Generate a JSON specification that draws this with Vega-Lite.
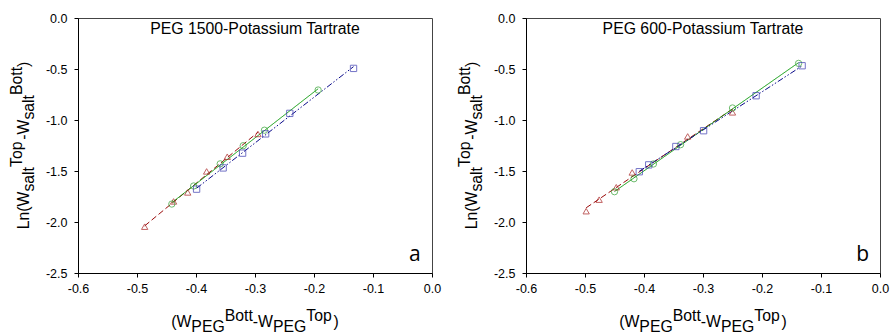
{
  "$schema": "https://vega.github.io/schema/vega-lite/v6.json",
  "background": "white",
  "padding": {"left": 8, "top": 11, "right": 0, "bottom": 0},
  "spacing": 14,
  "config": {
    "view": {"stroke": "#444", "strokeWidth": 1},
    "axis": {"grid": false, "domainColor": "#000", "domainWidth": 1, "tickColor": "#000", "tickSize": 4, "labelFont": "Liberation Sans", "labelFontSize": 12.5, "labelColor": "#000", "labelOverlap": false, "labelFlush": false, "format": ".1f", "labelExpr": "replace(datum.label, '\u2212', '-')"},
    "axisX": {"labelPadding": 5},
    "axisY": {"labelPadding": 7},
    "text": {"font": "Liberation Sans", "fontSize": 15.8, "color": "#000", "align": "left", "baseline": "alphabetic"}
  },
  "datasets": {
    "a": [
      {"series": "s1", "x": -0.487, "y": -2.046},
      {"series": "s1", "x": -0.438, "y": -1.798},
      {"series": "s1", "x": -0.414, "y": -1.710},
      {"series": "s1", "x": -0.382, "y": -1.504},
      {"series": "s1", "x": -0.347, "y": -1.360},
      {"series": "s1", "x": -0.295, "y": -1.137},
      {"series": "s2", "x": -0.441, "y": -1.824},
      {"series": "s2", "x": -0.404, "y": -1.647},
      {"series": "s2", "x": -0.359, "y": -1.430},
      {"series": "s2", "x": -0.320, "y": -1.252},
      {"series": "s2", "x": -0.284, "y": -1.100},
      {"series": "s2", "x": -0.193, "y": -0.706},
      {"series": "s3", "x": -0.399, "y": -1.678},
      {"series": "s3", "x": -0.354, "y": -1.470},
      {"series": "s3", "x": -0.321, "y": -1.325},
      {"series": "s3", "x": -0.282, "y": -1.136},
      {"series": "s3", "x": -0.241, "y": -0.935},
      {"series": "s3", "x": -0.133, "y": -0.494}
    ],
    "b": [
      {"series": "s1", "x": -0.498, "y": -1.894},
      {"series": "s1", "x": -0.476, "y": -1.781},
      {"series": "s1", "x": -0.447, "y": -1.659},
      {"series": "s1", "x": -0.420, "y": -1.514},
      {"series": "s1", "x": -0.326, "y": -1.161},
      {"series": "s1", "x": -0.250, "y": -0.925},
      {"series": "s2", "x": -0.450, "y": -1.703},
      {"series": "s2", "x": -0.417, "y": -1.576},
      {"series": "s2", "x": -0.384, "y": -1.431},
      {"series": "s2", "x": -0.338, "y": -1.242},
      {"series": "s2", "x": -0.250, "y": -0.882},
      {"series": "s2", "x": -0.138, "y": -0.445},
      {"series": "s3", "x": -0.408, "y": -1.507},
      {"series": "s3", "x": -0.392, "y": -1.440},
      {"series": "s3", "x": -0.346, "y": -1.260},
      {"series": "s3", "x": -0.299, "y": -1.105},
      {"series": "s3", "x": -0.210, "y": -0.762},
      {"series": "s3", "x": -0.132, "y": -0.468}
    ]
  },
  "hconcat": [
    {
      "width": 354, "height": 255,
      "data": {"name": "a"},
      "layer": [
        {
          "transform": [{"regression": "y", "on": "x", "groupby": ["series"]}],
          "mark": {"type": "line", "strokeWidth": 1},
          "encoding": {
            "x": {"field": "x", "type": "quantitative", "scale": {"domain": [-0.6, 0], "nice": false, "zero": false}, "axis": {"title": null, "values": [-0.6, -0.5, -0.4, -0.3, -0.2, -0.1, 0]}},
            "y": {"field": "y", "type": "quantitative", "scale": {"domain": [-2.5, 0], "nice": false, "zero": false}, "axis": {"title": null, "values": [-2.5, -2, -1.5, -1, -0.5, 0]}},
            "color": {"field": "series", "type": "nominal", "scale": {"domain": ["s1", "s2", "s3"], "range": ["#9a0a0a", "#0a9a0a", "#0a0a8a"]}, "legend": null},
            "strokeDash": {"field": "series", "type": "nominal", "scale": {"domain": ["s1", "s2", "s3"], "range": [[6, 3], [1, 0], [6, 2, 1.5, 2, 1.5, 2]]}, "legend": null}
          }
        },
        {
          "mark": {"type": "point", "filled": false, "strokeWidth": 1, "size": 40},
          "encoding": {
            "x": {"field": "x", "type": "quantitative"},
            "y": {"field": "y", "type": "quantitative"},
            "stroke": {"field": "series", "type": "nominal", "scale": {"domain": ["s1", "s2", "s3"], "range": ["#a82020", "#30a030", "#3a3ab0"]}, "legend": null},
            "shape": {"field": "series", "type": "nominal", "scale": {"domain": ["s1", "s2", "s3"], "range": ["triangle-up", "circle", "square"]}, "legend": null}
          }
        },
        {"data": {"values": [{}]}, "mark": {"type": "text", "text": "PEG 1500-Potassium Tartrate", "align": "center"}, "encoding": {"x": {"datum": -0.3}, "y": {"datum": -0.157}}},
        {"data": {"values": [{}]}, "mark": {"type": "text", "text": "a", "align": "center", "font": "Open Sans", "fontSize": 21}, "encoding": {"x": {"datum": -0.0293}, "y": {"datum": -2.386}}},
        {"data": {"values": [{}]}, "mark": {"type": "text", "text": "(W"}, "encoding": {"x": {"datum": -0.4421}, "y": {"datum": -3.031}}},
        {"data": {"values": [{}]}, "mark": {"type": "text", "text": "PEG"}, "encoding": {"x": {"datum": -0.4079}, "y": {"datum": -3.075}}},
        {"data": {"values": [{}]}, "mark": {"type": "text", "text": "Bott"}, "encoding": {"x": {"datum": -0.3514}, "y": {"datum": -2.968}}},
        {"data": {"values": [{}]}, "mark": {"type": "text", "text": "-W"}, "encoding": {"x": {"datum": -0.3037}, "y": {"datum": -3.031}}},
        {"data": {"values": [{}]}, "mark": {"type": "text", "text": "PEG"}, "encoding": {"x": {"datum": -0.2695}, "y": {"datum": -3.075}}},
        {"data": {"values": [{}]}, "mark": {"type": "text", "text": "Top"}, "encoding": {"x": {"datum": -0.2130}, "y": {"datum": -2.968}}},
        {"data": {"values": [{}]}, "mark": {"type": "text", "text": ")"}, "encoding": {"x": {"datum": -0.1668}, "y": {"datum": -3.031}}},
        {"data": {"values": [{}]}, "mark": {"type": "text", "text": "Ln(W", "angle": 270}, "encoding": {"x": {"datum": -0.683}, "y": {"datum": -2.072}}},
        {"data": {"values": [{}]}, "mark": {"type": "text", "text": "salt", "angle": 270}, "encoding": {"x": {"datum": -0.6754}, "y": {"datum": -1.7019}}},
        {"data": {"values": [{}]}, "mark": {"type": "text", "text": "Top", "angle": 270}, "encoding": {"x": {"datum": -0.6949}, "y": {"datum": -1.4609}}},
        {"data": {"values": [{}]}, "mark": {"type": "text", "text": "-W", "angle": 270}, "encoding": {"x": {"datum": -0.683}, "y": {"datum": -1.194}}},
        {"data": {"values": [{}]}, "mark": {"type": "text", "text": "salt", "angle": 270}, "encoding": {"x": {"datum": -0.6754}, "y": {"datum": -0.9962}}},
        {"data": {"values": [{}]}, "mark": {"type": "text", "text": "Bott", "angle": 270}, "encoding": {"x": {"datum": -0.6949}, "y": {"datum": -0.7552}}},
        {"data": {"values": [{}]}, "mark": {"type": "text", "text": ")", "angle": 270}, "encoding": {"x": {"datum": -0.683}, "y": {"datum": -0.4796}}}
      ]
    },
    {
      "width": 354, "height": 255,
      "data": {"name": "b"},
      "layer": [
        {
          "transform": [{"regression": "y", "on": "x", "groupby": ["series"]}],
          "mark": {"type": "line", "strokeWidth": 1},
          "encoding": {
            "x": {"field": "x", "type": "quantitative", "scale": {"domain": [-0.6, 0], "nice": false, "zero": false}, "axis": {"title": null, "values": [-0.6, -0.5, -0.4, -0.3, -0.2, -0.1, 0]}},
            "y": {"field": "y", "type": "quantitative", "scale": {"domain": [-2.5, 0], "nice": false, "zero": false}, "axis": {"title": null, "values": [-2.5, -2, -1.5, -1, -0.5, 0]}},
            "color": {"field": "series", "type": "nominal", "scale": {"domain": ["s1", "s2", "s3"], "range": ["#9a0a0a", "#0a9a0a", "#0a0a8a"]}, "legend": null},
            "strokeDash": {"field": "series", "type": "nominal", "scale": {"domain": ["s1", "s2", "s3"], "range": [[6, 3], [1, 0], [6, 2, 1.5, 2, 1.5, 2]]}, "legend": null}
          }
        },
        {
          "mark": {"type": "point", "filled": false, "strokeWidth": 1, "size": 40},
          "encoding": {
            "x": {"field": "x", "type": "quantitative"},
            "y": {"field": "y", "type": "quantitative"},
            "stroke": {"field": "series", "type": "nominal", "scale": {"domain": ["s1", "s2", "s3"], "range": ["#a82020", "#30a030", "#3a3ab0"]}, "legend": null},
            "shape": {"field": "series", "type": "nominal", "scale": {"domain": ["s1", "s2", "s3"], "range": ["triangle-up", "circle", "square"]}, "legend": null}
          }
        },
        {"data": {"values": [{}]}, "mark": {"type": "text", "text": "PEG 600-Potassium Tartrate", "align": "center"}, "encoding": {"x": {"datum": -0.3}, "y": {"datum": -0.157}}},
        {"data": {"values": [{}]}, "mark": {"type": "text", "text": "b", "align": "center", "font": "Open Sans", "fontSize": 21}, "encoding": {"x": {"datum": -0.0295}, "y": {"datum": -2.38}}},
        {"data": {"values": [{}]}, "mark": {"type": "text", "text": "(W"}, "encoding": {"x": {"datum": -0.4421}, "y": {"datum": -3.031}}},
        {"data": {"values": [{}]}, "mark": {"type": "text", "text": "PEG"}, "encoding": {"x": {"datum": -0.4079}, "y": {"datum": -3.075}}},
        {"data": {"values": [{}]}, "mark": {"type": "text", "text": "Bott"}, "encoding": {"x": {"datum": -0.3514}, "y": {"datum": -2.968}}},
        {"data": {"values": [{}]}, "mark": {"type": "text", "text": "-W"}, "encoding": {"x": {"datum": -0.3037}, "y": {"datum": -3.031}}},
        {"data": {"values": [{}]}, "mark": {"type": "text", "text": "PEG"}, "encoding": {"x": {"datum": -0.2695}, "y": {"datum": -3.075}}},
        {"data": {"values": [{}]}, "mark": {"type": "text", "text": "Top"}, "encoding": {"x": {"datum": -0.2130}, "y": {"datum": -2.968}}},
        {"data": {"values": [{}]}, "mark": {"type": "text", "text": ")"}, "encoding": {"x": {"datum": -0.1668}, "y": {"datum": -3.031}}},
        {"data": {"values": [{}]}, "mark": {"type": "text", "text": "Ln(W", "angle": 270}, "encoding": {"x": {"datum": -0.683}, "y": {"datum": -2.072}}},
        {"data": {"values": [{}]}, "mark": {"type": "text", "text": "salt", "angle": 270}, "encoding": {"x": {"datum": -0.6754}, "y": {"datum": -1.7019}}},
        {"data": {"values": [{}]}, "mark": {"type": "text", "text": "Top", "angle": 270}, "encoding": {"x": {"datum": -0.6949}, "y": {"datum": -1.4609}}},
        {"data": {"values": [{}]}, "mark": {"type": "text", "text": "-W", "angle": 270}, "encoding": {"x": {"datum": -0.683}, "y": {"datum": -1.194}}},
        {"data": {"values": [{}]}, "mark": {"type": "text", "text": "salt", "angle": 270}, "encoding": {"x": {"datum": -0.6754}, "y": {"datum": -0.9962}}},
        {"data": {"values": [{}]}, "mark": {"type": "text", "text": "Bott", "angle": 270}, "encoding": {"x": {"datum": -0.6949}, "y": {"datum": -0.7552}}},
        {"data": {"values": [{}]}, "mark": {"type": "text", "text": ")", "angle": 270}, "encoding": {"x": {"datum": -0.683}, "y": {"datum": -0.4796}}}
      ]
    }
  ]
}
